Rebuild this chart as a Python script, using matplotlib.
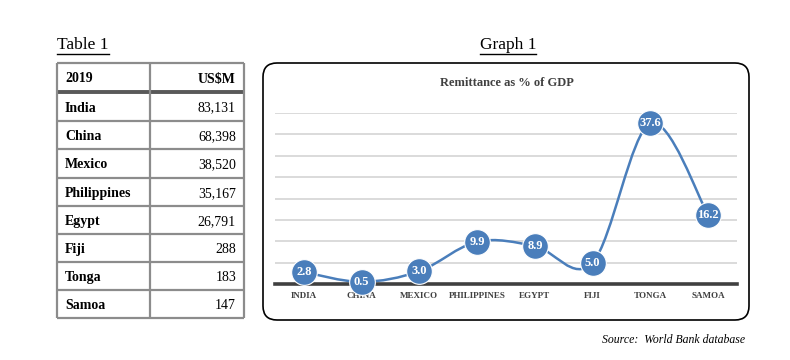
import numpy as np
import matplotlib.pyplot as plt
from matplotlib.path import Path
from matplotlib.patches import PathPatch, FancyBboxPatch

# table 1 data
table_head = ["2019", "US$M"]
countries = ["India", "China", "Mexico", "Philippines", "Egypt", "Fiji", "Tonga", "Samoa"]
usd_m = ["83,131", "68,398", "38,520", "35,167", "26,791", "288", "183", "147"]

# graph 1 data
cats = ["INDIA", "CHINA", "MEXICO", "PHILIPPINES", "EGYPT", "FIJI", "TONGA", "SAMOA"]
pct_gdp = [2.8, 0.5, 3.0, 9.9, 8.9, 5.0, 37.6, 16.2]

blue = "#4A7EBB"
serif = ["Liberation Serif", "DejaVu Serif"]
plt.rcParams["font.family"] = serif

fig = plt.figure(figsize=(7.9, 3.6), dpi=100)

# background axes in pixel coords for table and frames
bg = fig.add_axes([0, 0, 1, 1])
bg.set_xlim(0, 790)
bg.set_ylim(360, 0)
bg.axis("off")

# --- table ---
x0, xm, x1 = 57, 150, 244
row_y = [63, 92, 121, 149, 178, 206, 234, 262, 290, 318]
grey = "#8c8c8c"
for y in row_y:
    bg.plot([x0, x1], [y, y], color=grey, lw=1.6, solid_capstyle="butt")
bg.plot([x0, x1], [row_y[1], row_y[1]], color="#595959", lw=2.8, solid_capstyle="butt")
for x in (x0, xm, x1):
    bg.plot([x, x], [row_y[0], row_y[-1]], color=grey, lw=1.6, solid_capstyle="butt")

def cell_y(i):
    return (row_y[i] + row_y[i + 1]) / 2 + 1.5

bg.text(65, cell_y(0), table_head[0], fontsize=10, fontweight="bold", va="center", ha="left")
bg.text(236, cell_y(0), table_head[1], fontsize=10, fontweight="bold", va="center", ha="right")
for i, (c, v) in enumerate(zip(countries, usd_m)):
    bg.text(65, cell_y(i + 1), c, fontsize=10, fontweight="bold", va="center", ha="left")
    bg.text(236, cell_y(i + 1), v, fontsize=10, va="center", ha="right")

t1 = bg.text(57, 45, "Table 1", fontsize=12.5, va="center", ha="left")
t2 = bg.text(508, 45, "Graph 1", fontsize=12.5, va="center", ha="center")

# rounded frame around graph
frame = FancyBboxPatch((263, 63), 486, 257, boxstyle="round,pad=0,rounding_size=14",
                       fc="white", ec="black", lw=1.2)
bg.add_patch(frame)
bg.text(507, 83, "Remittance as % of GDP", fontsize=9, fontweight="bold",
        color="#404040", ha="center", va="center")

bg.text(745, 340, "Source:  World Bank database", fontsize=8.5, style="italic",
        ha="right", va="center")

# --- graph ---
ax = fig.add_axes([275 / 790, 1 - 284 / 360, 462 / 790, 171 / 360])
xs = np.arange(len(cats))
ax.set_xlim(-0.5, len(cats) - 0.5)
ax.set_ylim(0, 40)
ax.set_yticks(np.arange(5, 41, 5))
ax.yaxis.grid(True, color="#d4d4d4", lw=1.2)
ax.set_axisbelow(True)
ax.tick_params(axis="y", left=False, labelleft=False)
ax.tick_params(axis="x", length=0, pad=6)
ax.set_xticks(xs)
ax.set_xticklabels(cats, fontsize=6.5, fontweight="bold", color="#404040")
for s in ["top", "right", "left"]:
    ax.spines[s].set_visible(False)
ax.spines["bottom"].set_color("#404040")
ax.spines["bottom"].set_linewidth(2.6)
ax.patch.set_alpha(0)

# smoothed line (Catmull-Rom style bezier segments, like Excel)
pts = np.column_stack([xs, pct_gdp]).astype(float)
ext = np.vstack([pts[0], pts, pts[-1]])
verts = [tuple(pts[0])]
codes = [Path.MOVETO]
for i in range(len(pts) - 1):
    p0, p1, p2, p3 = ext[i], ext[i + 1], ext[i + 2], ext[i + 3]
    c1 = p1 + (p2 - p0) / 6
    c2 = p2 - (p3 - p1) / 6
    verts += [tuple(c1), tuple(c2), tuple(p2)]
    codes += [Path.CURVE4] * 3
ax.add_patch(PathPatch(Path(verts, codes), fc="none", ec=blue, lw=1.8, clip_on=False, zorder=3))

ax.plot(xs, pct_gdp, ls="none", marker="o", ms=18.5, mfc=blue, mec="white", mew=0.8,
        clip_on=False, zorder=4)
for x, v in zip(xs, pct_gdp):
    ax.text(x, v, f"{v:.1f}", color="white", fontsize=9, fontweight="bold",
            ha="center", va="center", zorder=5)

# underline the two titles
fig.canvas.draw()
inv = bg.transData.inverted()
for t in (t1, t2):
    bb = t.get_window_extent()
    (xa, ya), (xb, yb) = inv.transform([[bb.x0, bb.y0], [bb.x1, bb.y1]])
    bg.plot([xa, xb], [ya + 1, ya + 1], color="black", lw=1)

fig.savefig("out.png", dpi=100)
